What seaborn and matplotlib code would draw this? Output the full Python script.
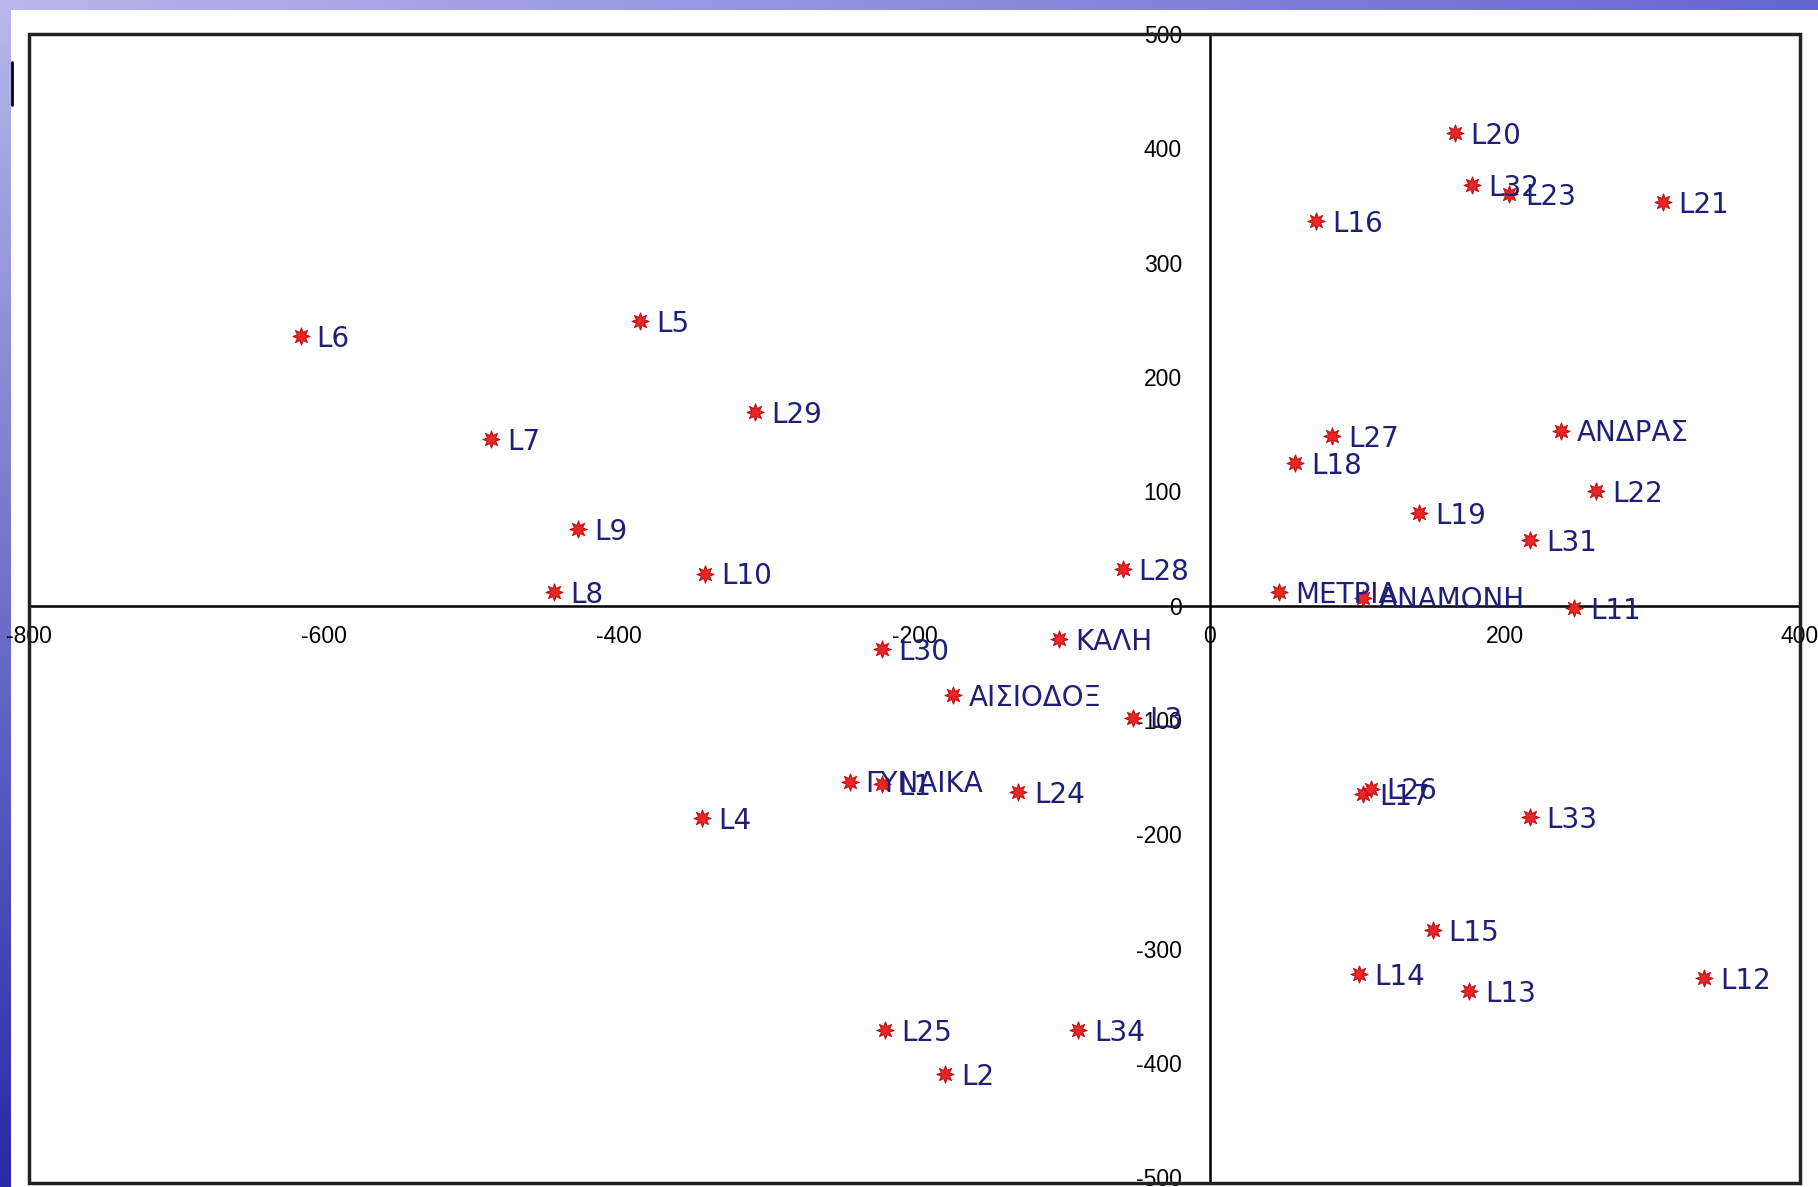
import numpy as np
import pandas as pd
import matplotlib
matplotlib.use("Agg")
import matplotlib.pyplot as plt
import seaborn as sns
from matplotlib.patches import Rectangle
from matplotlib.lines import Line2D

labels = ["L6", "L5", "L29", "L7", "L9", "L10", "L8", "L28",
          "L20", "L32", "L23", "L21", "L16", "L27", "ΑΝΔΡΑΣ", "L18",
          "L22", "L19", "L31", "ΜΕΤΡΙΑ", "ΑΝΑΜΟΝΗ", "L11", "ΚΑΛΗ", "L30",
          "ΑΙΣΙΟΔΟΞ", "L3", "ΓΥΝΑΙΚΑ", "L1", "L24", "L4", "L17", "L26",
          "L33", "L15", "L14", "L13", "L12", "L25", "L34", "L2"]
x_vals = [-616, -386, -308, -487, -428, -342, -444, -59,
          166, 178, 203, 307, 72, 83, 238, 58,
          262, 142, 217, 47, 104, 247, -102, -222,
          -174, -52, -244, -222, -130, -344, 104, 109,
          217, 151, 101, 176, 335, -220, -89, -179]
y_vals = [236, 249, 169, 146, 67, 28, 12, 32,
          413, 368, 360, 353, 336, 148, 153, 125,
          100, 81, 57, 12, 7, -2, -29, -38,
          -78, -98, -154, -156, -163, -186, -165, -160,
          -185, -284, -322, -337, -326, -371, -371, -410]

x_ticks = [-800, -600, -400, -200, 0, 200, 400]
y_ticks = [-500, -400, -300, -200, -100, 0, 100, 200, 300, 400, 500]

df = pd.DataFrame({"label": labels, "x": x_vals, "y": y_vals})

sns.set_style("white")
plt.rcParams["font.family"] = ["Liberation Sans", "DejaVu Sans"]

W, H = 1818, 1187
fig = plt.figure(figsize=(W / 100, H / 100), dpi=100)

# slide background gradient
bg = fig.add_axes([0, 0, 1, 1])
bg.set_axis_off()
gx = np.linspace(0, 1, 200)
gy = np.linspace(0, 1, 200)
GX, GY = np.meshgrid(gx, gy)
c_top_left = np.array([0.72, 0.72, 0.92])
c_top_right = np.array([0.40, 0.40, 0.82])
c_bottom = np.array([0.16, 0.16, 0.66])
img = (c_top_left[None, None, :] * (1 - GX[..., None]) * (1 - GY[..., None])
       + c_top_right[None, None, :] * GX[..., None] * (1 - GY[..., None])
       + c_bottom[None, None, :] * GY[..., None])
bg.imshow(img, extent=[0, 1, 0, 1], aspect="auto", origin="upper")
bg.add_patch(Rectangle((11 / W, 0), 1 - 11 / W, 1 - 10 / H,
                       facecolor="white", edgecolor="none"))
bg.set_xlim(0, 1)
bg.set_ylim(0, 1)
fig.add_artist(Line2D([12 / W, 12 / W], [1 - 62 / H, 1 - 105 / H],
                      color="black", lw=2))

left, right, top, bottom = 29, 1800, 34, 1183
ax = fig.add_axes([left / W, (H - bottom) / H, (right - left) / W, (bottom - top) / H])
ax.set_facecolor("white")

sns.scatterplot(data=df, x="x", y="y", ax=ax, color="#e8262a",
                marker=(8, 1, 0), s=150, edgecolor="#c01010", linewidth=0.8,
                zorder=5, legend=False)

for lab, xv, yv in zip(df["label"], df["x"], df["y"]):
    ax.annotate(lab, (xv, yv), xytext=(11.5, -2), textcoords="offset points",
                ha="left", va="center", fontsize=20, color="#1f1f78",
                family=["DejaVu Sans"], zorder=6)

ax.set_xlim(-800, 400)
ax.set_ylim(-505, 500)
ax.set_xticks(x_ticks)
ax.set_yticks(y_ticks)
ax.set_xticklabels([str(v) for v in x_ticks])
ax.set_yticklabels([str(v) for v in y_ticks])
ax.set_xlabel("")
ax.set_ylabel("")

for s in ["top", "right"]:
    ax.spines[s].set_visible(False)
ax.spines["left"].set_position(("data", 0))
ax.spines["bottom"].set_position(("data", 0))
for s in ["left", "bottom"]:
    ax.spines[s].set_color("black")
    ax.spines[s].set_linewidth(1.8)
ax.add_patch(Rectangle((0, 0), 1, 1, transform=ax.transAxes, fill=False,
                       edgecolor="#222222", linewidth=2.5, zorder=10, clip_on=False))
ax.tick_params(axis="both", direction="inout", length=12, width=1.5,
               colors="black", labelsize=16.5, pad=8)
ax.tick_params(axis="y", pad=14)

fig.savefig("out.png", dpi=100)
